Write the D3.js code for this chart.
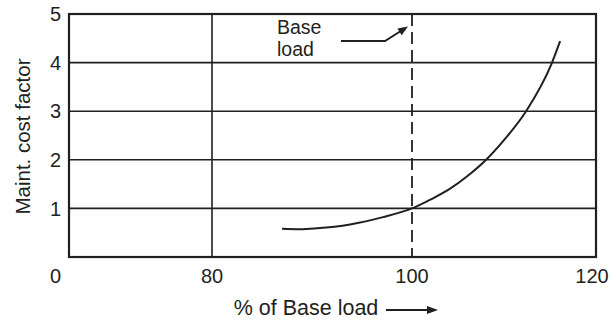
<!DOCTYPE html>
<html>
<head>
<meta charset="utf-8">
<script src="https://cdn.jsdelivr.net/npm/d3@7"></script>
<style>
  html, body { margin: 0; padding: 0; background: #fff; }
  svg { display: block; font-family: "Liberation Sans", Arial, Helvetica, sans-serif; }
</style>
</head>
<body>
<svg id="chart" width="610" height="321"></svg>
<script>
// ---- data ----
const loadPct = [87, 88.8, 90.5, 93.8, 97.1, 100, 102, 104.1, 106, 108, 110.2, 112.4, 115.2, 116.1];
const costFactor = [0.58, 0.57, 0.59, 0.67, 0.82, 1.0, 1.18, 1.4, 1.66, 1.99, 2.45, 3.0, 3.99, 4.44];
const xBreaks = [0, 80, 100, 120];          // broken axis: 0 then 80..120
const xTickValues = [80, 100, 120];
const yTickValues = [1, 2, 3, 4, 5];
const gridYValues = [1, 2, 3, 4];
const gridXSolid = [80];
const baseLoad = 100;
const xTitle = "% of Base load";
const yTitle = "Maint. cost factor";
const zeroLabel = "0";
const annotationLines = ["Base", "load"];

// ---- layout ----
const ink = "#231f20";
const svg = d3.select("#chart");
const pLeft = 69, pRight = 596, pTop = 14, pBottom = 257;

const x = d3.scaleLinear().domain(xBreaks).range([pLeft, 212, 412, pRight]);
const y = d3.scaleLinear().domain([0, 5]).range([pBottom, pTop]);

// horizontal grid
svg.append("g").selectAll("line").data(gridYValues).join("line")
  .attr("x1", pLeft).attr("x2", pRight)
  .attr("y1", d => y(d)).attr("y2", d => y(d))
  .attr("stroke", ink).attr("stroke-width", 1.6);

// vertical solid grid
svg.append("g").selectAll("line").data(gridXSolid).join("line")
  .attr("x1", d => x(d)).attr("x2", d => x(d))
  .attr("y1", pTop).attr("y2", pBottom)
  .attr("stroke", ink).attr("stroke-width", 1.6);

// base load dashed line
svg.append("line")
  .attr("x1", x(baseLoad)).attr("x2", x(baseLoad))
  .attr("y1", pTop).attr("y2", pBottom)
  .attr("stroke", ink).attr("stroke-width", 1.8)
  .attr("stroke-dasharray", "12,6");

// frame
svg.append("rect")
  .attr("x", pLeft).attr("y", pTop)
  .attr("width", pRight - pLeft).attr("height", pBottom - pTop)
  .attr("fill", "none").attr("stroke", ink).attr("stroke-width", 2.2);

// curve
const pts = loadPct.map((v, i) => [v, costFactor[i]]);
svg.append("path")
  .datum(pts)
  .attr("fill", "none").attr("stroke", ink).attr("stroke-width", 2)
  .attr("d", d3.line().x(d => x(d[0])).y(d => y(d[1])).curve(d3.curveMonotoneX));

// y tick labels
svg.append("g").selectAll("text").data(yTickValues).join("text")
  .attr("x", 61).attr("y", d => y(d))
  .attr("dy", "0.36em").attr("text-anchor", "end")
  .attr("font-size", 20).attr("fill", ink)
  .text(d => d);

// x tick labels
svg.append("g").selectAll("text").data(xTickValues).join("text")
  .attr("x", d => x(d) + (d === 120 ? -4 : 0)).attr("y", 283)
  .attr("text-anchor", "middle")
  .attr("font-size", 20).attr("fill", ink)
  .text(d => d);

// shared origin label
svg.append("text")
  .attr("x", 61).attr("y", 283).attr("text-anchor", "end")
  .attr("font-size", 20).attr("fill", ink).text(zeroLabel);

// y title
svg.append("text")
  .attr("transform", `translate(30, ${(pTop + pBottom) / 2 + 1}) rotate(-90)`)
  .attr("text-anchor", "middle")
  .attr("font-size", 20.5).attr("fill", ink)
  .text(yTitle);

// x title with arrow
svg.append("text")
  .attr("x", 306).attr("y", 315).attr("text-anchor", "middle")
  .attr("font-size", 21.5).attr("fill", ink)
  .text(xTitle);

function arrowHead(tipX, tipY, angle, len, half) {
  const c = Math.cos(angle), s = Math.sin(angle);
  const bxp = tipX - len * c, byp = tipY - len * s;
  return `M${tipX},${tipY} L${bxp - half * s},${byp + half * c} L${bxp + half * s},${byp - half * c} Z`;
}

svg.append("line")
  .attr("x1", 386).attr("x2", 430).attr("y1", 310).attr("y2", 310)
  .attr("stroke", ink).attr("stroke-width", 2);
svg.append("path")
  .attr("d", arrowHead(438, 310, 0, 11, 4))
  .attr("fill", ink);

// annotation
const bx = x(baseLoad);
const ann = svg.append("text")
  .attr("x", bx - 135).attr("y", 34)
  .attr("font-size", 19.5).attr("fill", ink);
ann.selectAll("tspan").data(annotationLines).join("tspan")
  .attr("x", bx - 135).attr("dy", (d, i) => i === 0 ? 0 : 21.5)
  .text(d => d);

const aStart = [bx - 71, 41], aBend = [bx - 27, 41], aTip = [bx - 4, 26.5];
const ang = Math.atan2(aTip[1] - aBend[1], aTip[0] - aBend[0]);
svg.append("path")
  .attr("d", `M${aStart[0]},${aStart[1]} L${aBend[0]},${aBend[1]} L${aTip[0] - 8 * Math.cos(ang)},${aTip[1] - 8 * Math.sin(ang)}`)
  .attr("fill", "none").attr("stroke", ink).attr("stroke-width", 2);
svg.append("path")
  .attr("d", arrowHead(aTip[0], aTip[1], ang, 10, 4))
  .attr("fill", ink);
</script>
</body>
</html>
